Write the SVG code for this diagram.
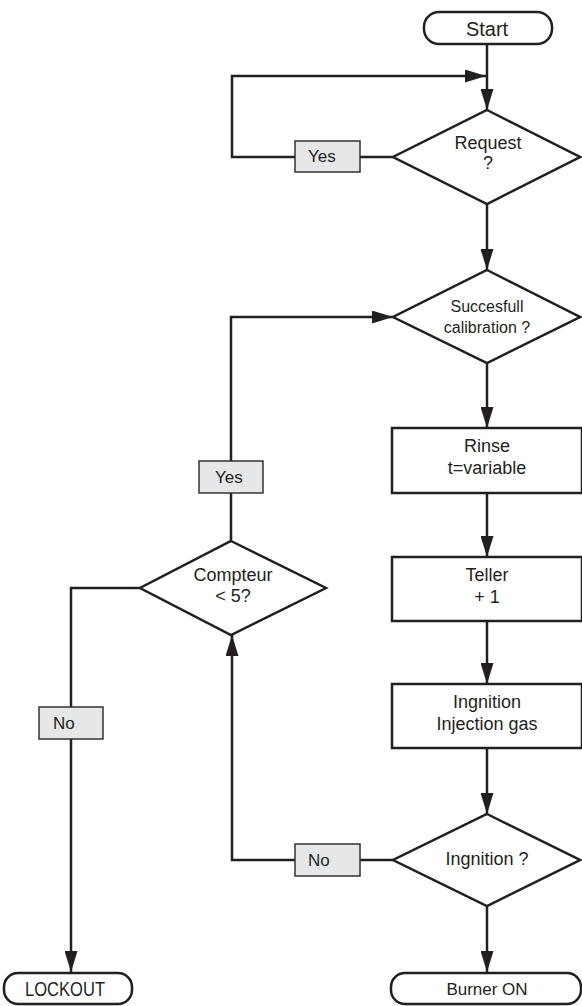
<svg xmlns="http://www.w3.org/2000/svg" width="582" height="1006" viewBox="0 0 582 1006">
<style>
.ln{fill:none;stroke:#231f20;stroke-width:2.5}
.shape{fill:#fff;stroke:#231f20;stroke-width:2.5}
.lbl{fill:#e6e7e8;stroke:#333;stroke-width:1.5}
text{font-family:"Liberation Sans",Arial,sans-serif;fill:#231f20;font-size:18px;text-anchor:middle}
.s{font-size:16px}
.l{text-anchor:start;font-size:17px}
</style>
<defs>
<marker id="ah" markerUnits="userSpaceOnUse" markerWidth="21" markerHeight="13" refX="21" refY="6.5" orient="auto">
<path d="M0,0 L21,6.5 L0,13 z" fill="#231f20"/>
</marker>
</defs>
<rect width="582" height="1006" fill="#fff"/>
<g id="connectors">
<line class="ln" x1="487" y1="44" x2="487" y2="110" marker-end="url(#ah)"/>
<polyline class="ln" points="393,157 232,157 232,76 486,76" marker-end="url(#ah)"/>
<line class="ln" x1="487" y1="204" x2="487" y2="270" marker-end="url(#ah)"/>
<line class="ln" x1="487" y1="363" x2="487" y2="428" marker-end="url(#ah)"/>
<line class="ln" x1="487" y1="493" x2="487" y2="557" marker-end="url(#ah)"/>
<line class="ln" x1="487" y1="621" x2="487" y2="684" marker-end="url(#ah)"/>
<line class="ln" x1="487" y1="748" x2="487" y2="814" marker-end="url(#ah)"/>
<line class="ln" x1="487" y1="906" x2="487" y2="972" marker-end="url(#ah)"/>
<polyline class="ln" points="231,541 231,317 393,317" marker-end="url(#ah)"/>
<polyline class="ln" points="393,860 232,860 232,635" marker-end="url(#ah)"/>
<polyline class="ln" points="140,588 71,588 71,972" marker-end="url(#ah)"/>
</g>
<g id="start">
<rect class="shape" x="424" y="12" width="128" height="32" rx="15"/>
<text x="487" y="36" style="font-size:20px">Start</text>
</g>
<g id="request">
<polygon class="shape" points="487,110 580,157 487,204 393,157"/>
<text x="488" y="149">Request</text>
<text x="488" y="169">?</text>
</g>
<g id="yes1">
<rect class="lbl" x="295" y="141" width="65" height="31"/>
<text class="l" x="308" y="162">Yes</text>
</g>
<g id="calibration">
<polygon class="shape" points="487,270 580,317 487,363 393,317"/>
<text class="s" x="487" y="312">Succesfull</text>
<text class="s" x="487" y="333">calibration ?</text>
</g>
<g id="rinse">
<rect class="shape" x="392" y="428" width="190" height="65"/>
<text x="487" y="452">Rinse</text>
<text x="487" y="474">t=variable</text>
</g>
<g id="teller">
<rect class="shape" x="392" y="557" width="190" height="64"/>
<text x="487" y="581">Teller</text>
<text x="487" y="603">+ 1</text>
</g>
<g id="ignition-box">
<rect class="shape" x="392" y="684" width="190" height="64"/>
<text x="487" y="708">Ingnition</text>
<text x="487" y="730">Injection gas</text>
</g>
<g id="ignition">
<polygon class="shape" points="487,814 580,860 487,906 393,860"/>
<text x="487" y="865">Ingnition ?</text>
</g>
<g id="no2">
<rect class="lbl" x="295" y="844" width="65" height="32"/>
<text class="l" x="308" y="866">No</text>
</g>
<g id="yes2">
<rect class="lbl" x="199" y="461" width="64" height="32"/>
<text class="l" x="215" y="483">Yes</text>
</g>
<g id="compteur">
<polygon class="shape" points="231,541 326,588 231,635 140,588"/>
<text x="233" y="581">Compteur</text>
<text x="233" y="602">&lt; 5?</text>
</g>
<g id="no1">
<rect class="lbl" x="39" y="707" width="64" height="32"/>
<text class="l" x="53" y="729">No</text>
</g>
<g id="lockout">
<rect class="shape" x="4" y="973" width="128" height="31" rx="14"/>
<text x="65" y="996" textLength="80" lengthAdjust="spacingAndGlyphs" style="font-size:20px">LOCKOUT</text>
</g>
<g id="burner">
<rect class="shape" x="391" y="973" width="190" height="31" rx="14"/>
<text x="487" y="995" style="font-size:17px">Burner ON</text>
</g>
</svg>
